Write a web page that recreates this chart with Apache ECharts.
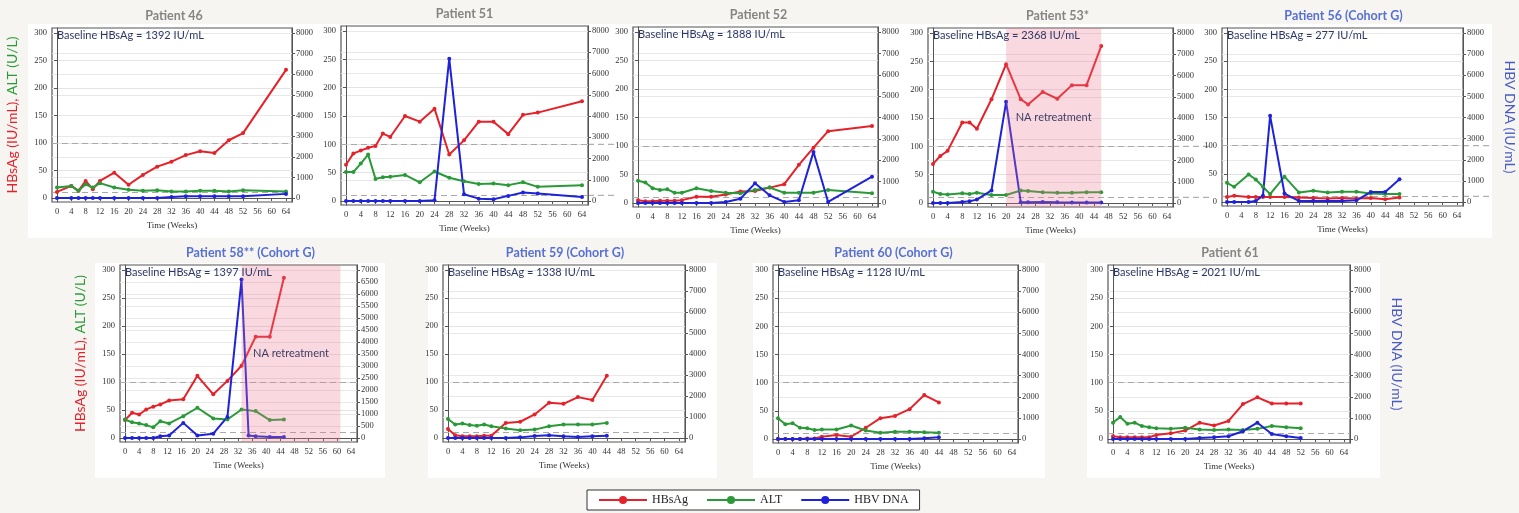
<!DOCTYPE html>
<html><head><meta charset="utf-8">
<script src="https://cdn.jsdelivr.net/npm/echarts@6/dist/echarts.min.js"></script>
<style>html,body{margin:0;padding:0;background:#f7f5f1;}#c{width:1519px;height:513px;}</style>
</head><body><div id="c"></div>
<script>
// ---------- tick labels ----------
const xTicks = [0,4,8,12,16,20,24,28,32,36,40,44,48,52,56,60,64];
const leftTicks = [0,50,100,150,200,250,300];
const rightTicks8000 = [0,1000,2000,3000,4000,5000,6000,7000,8000];
const rightTicks7000 = [0,500,1000,1500,2000,2500,3000,3500,4000,4500,5000,5500,6000,6500,7000];
const refLines = [100, 10];

// ---------- data (weeks, HBsAg IU/mL, ALT U/L, HBV DNA IU/mL) ----------
const weeks46 = [0,4,6,8,10,12,16,20,24,28,32,36,40,44,48,52,64];
const hbsag46 = [11,22,13,31,16,31,46,24,42,57,66,78,85,82,105,118,233];
const alt46   = [19,22,13,25,19,27,19,15,13,14,12,12,13,13,12,14,12];
const dna46   = [0,0,0,0,0,0,0,0,0,0,50,80,80,80,80,80,200];

const weeks51 = [0,2,4,6,8,10,12,16,20,24,28,32,36,40,44,48,52,64];
const hbsag51 = [64,84,89,94,97,119,113,150,140,163,82,107,140,140,118,152,156,176];
const alt51   = [51,51,66,82,39,42,43,46,33,52,41,35,30,31,28,33,25,28];
const dna51   = [0,0,0,0,0,0,0,0,0,30,6700,320,110,80,240,400,350,190];

const weeks52 = [0,2,4,6,8,10,12,16,20,24,28,32,36,40,44,48,52,64];
const hbsag52 = [5,3,3,4,4,4,5,11,11,15,20,21,27,33,67,97,126,135];
const alt52   = [39,36,26,23,24,18,18,26,21,18,17,23,27,18,18,18,23,17];
const dna52   = [0,0,0,0,0,0,0,0,0,50,200,920,360,50,130,2390,50,1230];

const weeks53 = [0,2,4,8,10,12,16,20,24,26,30,34,38,42,46];
const hbsag53 = [69,83,92,142,142,131,183,245,183,174,196,184,208,208,277];
const alt53   = [20,16,15,17,16,18,14,14,22,21,19,18,18,19,19];
const dna53   = [0,0,0,50,80,160,590,4760,30,30,50,30,20,20,20];

const weeks56 = [0,2,6,8,10,12,16,20,24,28,32,36,40,44,48];
const hbsag56 = [9,11,9,9,9,9,9,8,7,6,7,6,7,5,8];
const alt56   = [34,27,49,40,27,14,45,17,20,17,18,18,15,14,14];
const dna56   = [0,0,0,50,300,4080,400,50,50,50,50,80,470,470,1080];

const weeks58 = [0,2,4,6,8,10,12.5,16.5,20.5,25,29,33,35,37,41,45];
const hbsag58 = [32,45,42,51,56,60,67,69,111,78,102,129,null,181,181,286];
const alt58   = [33,28,26,23,19,30,26,39,54,35,33,51,null,48,32,33];
const dna58   = [0,0,0,0,0,70,100,630,100,180,880,6600,100,70,40,40];

const weeks59 = [0,2,4,6,8,10,12,16,20,24,28,32,36,40,44];
const hbsag59 = [16,5,3,3,3,4,4,27,29,42,63,61,73,68,111];
const alt59   = [34,24,26,23,22,24,21,17,14,15,21,24,24,24,27];
const dna59   = [0,0,0,0,0,0,0,0,30,100,130,80,50,80,110];

const weeks60 = [0,2,4,6,8,10,12,16,20,24,28,32,36,40,44];
const hbsag60 = [0,0,0,0,1,1,4,7,4,20,37,41,53,78,65];
const alt60   = [37,26,28,20,19,16,17,17,24,15,11,13,13,12,11];
const dna60   = [0,0,0,0,0,0,0,0,0,0,0,0,0,30,80];

const weeks61 = [0,2,4,6,8,10,12,16,20,24,28,32,36,40,44,48,52];
const hbsag61 = [5,3,3,3,3,3,7,10,15,29,24,32,62,74,63,63,63];
const alt61   = [29,39,27,29,23,21,19,18,20,17,16,17,16,18,23,21,19];
const dna61   = [0,0,0,0,0,0,0,0,0,50,80,130,370,770,240,130,50];

// ---------- panel descriptions ----------
const panels = [
  {title:'Patient 46', cohort:false, baseline:'Baseline HBsAg = 1392 IU/mL', w:weeks46, s:hbsag46, a:alt46, d:dna46, r:rightTicks8000, leftName:true,  rightName:false, shade:null},
  {title:'Patient 51', cohort:false, baseline:'', w:weeks51, s:hbsag51, a:alt51, d:dna51, r:rightTicks8000, leftName:false, rightName:false, shade:null},
  {title:'Patient 52', cohort:false, baseline:'Baseline HBsAg = 1888 IU/mL', w:weeks52, s:hbsag52, a:alt52, d:dna52, r:rightTicks8000, leftName:false, rightName:false, shade:null},
  {title:'Patient 53*', cohort:false, baseline:'Baseline HBsAg = 2368 IU/mL', w:weeks53, s:hbsag53, a:alt53, d:dna53, r:rightTicks8000, leftName:false, rightName:false, shade:[20,46]},
  {title:'Patient 56 (Cohort G)', cohort:true, baseline:'Baseline HBsAg = 277 IU/mL', w:weeks56, s:hbsag56, a:alt56, d:dna56, r:rightTicks8000, leftName:false, rightName:true, shade:null},
  {title:'Patient 58** (Cohort G)', cohort:true, baseline:'Baseline HBsAg = 1397 IU/mL', w:weeks58, s:hbsag58, a:alt58, d:dna58, r:rightTicks7000, leftName:true, rightName:false, shade:[33,61]},
  {title:'Patient 59 (Cohort G)', cohort:true, baseline:'Baseline HBsAg = 1338 IU/mL', w:weeks59, s:hbsag59, a:alt59, d:dna59, r:rightTicks8000, leftName:false, rightName:false, shade:null},
  {title:'Patient 60 (Cohort G)', cohort:true, baseline:'Baseline HBsAg = 1128 IU/mL', w:weeks60, s:hbsag60, a:alt60, d:dna60, r:rightTicks8000, leftName:false, rightName:false, shade:null},
  {title:'Patient 61', cohort:false, baseline:'Baseline HBsAg = 2021 IU/mL', w:weeks61, s:hbsag61, a:alt61, d:dna61, r:rightTicks8000, leftName:false, rightName:true, shade:null}
];
// frame rectangles [left, top, right, bottom], title x-offsets, dashed-line extension past the frame
const frames = [
  [52,28,292,202],[341,26,588,205],[633,27,878,207],[928,28,1173,207],[1222,28,1463,206],
  [120,265,357,442],[443,265,685,442],[773,265,1018,443],[1108,265,1350,443]
];
const titleShift = [2,0,3,7,1,12,1,-2,1];
const dashExtend = [0,28,0,40,28,0,0,0,0];
const whiteBoxes = [[28,24,1492,238],[95,263,385,478],[428,263,717,478],[753,263,1045,478],[1087,263,1380,478]];

const RED='#e5222a', GREEN='#2a9a38', BLUE='#1e22d8';
const PAD={l:5,r:6,t:5,b:4};

const grids=[], xAxes=[], yAxes=[], series=[], graphics=[];

whiteBoxes.forEach(b=>graphics.push({type:'rect', z:-100, shape:{x:b[0],y:b[1],width:b[2]-b[0],height:b[3]-b[1]}, style:{fill:'#ffffff'}}));

const fmt = v => String(Math.round(v));

panels.forEach((p,i)=>{
  const [L,T,R,B]=frames[i];
  const w=R-L, h=B-T;
  const ppw=(w-PAD.l-PAD.r)/64;
  const ppu=(h-PAD.t-PAD.b)/300;
  const xmin=-PAD.l/ppw, xmax=64+PAD.r/ppw;
  const ymin=-PAD.b/ppu, ymax=300+PAD.t/ppu;
  const rTop=p.r[p.r.length-1], k=rTop/300;
  grids.push({left:L, top:T, width:w, height:h, show:true, borderColor:'#555', borderWidth:1.2, backgroundColor:'#fff'});
  const labelStyle={fontFamily:'Liberation Serif', fontSize:8.5, color:'#333', formatter:fmt};
  xAxes.push({type:'value', gridIndex:i, min:xmin, max:xmax,
    name:'Time (Weeks)', nameLocation:'middle', nameGap:19, nameTextStyle:{fontFamily:'Liberation Serif', fontSize:9, color:'#333'},
    axisLine:{show:true, lineStyle:{color:'#555'}}, axisTick:{show:true, customValues:xTicks, length:3, lineStyle:{color:'#555'}},
    axisLabel:Object.assign({customValues:xTicks, margin:5}, labelStyle), splitLine:{show:false}});
  yAxes.push({type:'value', gridIndex:i, position:'left', min:ymin, max:ymax,
    name: p.leftName ? '{r|HBsAg (IU/mL),} {g|ALT (U/L)}' : '', nameLocation:'middle', nameGap:33,
    nameTextStyle:{fontFamily:'Lato', fontSize:14, rich:{r:{color:RED,fontFamily:'Lato',fontSize:14}, g:{color:GREEN,fontFamily:'Lato',fontSize:14}}},
    axisLine:{show:true, lineStyle:{color:'#555'}}, axisTick:{show:true, customValues:leftTicks, length:3, lineStyle:{color:'#555'}},
    axisLabel:Object.assign({customValues:leftTicks, margin:5}, labelStyle),
    splitLine:{show:true, lineStyle:{color:'#e3e3e3', width:1}}});
  yAxes.push({type:'value', gridIndex:i, position:'right', min:ymin*k, max:ymax*k,
    name: p.rightName ? 'HBV DNA (IU/mL)' : '', nameLocation:'middle', nameGap:40, nameRotate:-90,
    nameTextStyle:{fontFamily:'Lato', fontSize:14, color:'#4a5bc4'},
    axisLine:{show:true, lineStyle:{color:'#555'}}, axisTick:{show:true, customValues:p.r, length:3, lineStyle:{color:'#555'}},
    axisLabel:Object.assign({customValues:p.r, margin:4}, labelStyle),
    splitLine:{show:true, lineStyle:{color:'#e8e8e8', width:1}}});
  const yl=2*i, yr=2*i+1;
  const mk=(name,color,vals,yi)=>({name, type:'line', xAxisIndex:i, yAxisIndex:yi, z:2,
    data:p.w.map((wk,j)=>[wk, vals[j]]), connectNulls:true, symbol:'circle', symbolSize:4, showSymbol:true,
    itemStyle:{color}, lineStyle:{color, width:2}, animation:false});
  series.push(mk('HBsAg',RED,p.s,yl));
  series.push(mk('ALT',GREEN,p.a,yl));
  series.push(mk('HBV DNA',BLUE,p.d,yr));
  // reference dashed lines
  series.push({type:'line', xAxisIndex:i, yAxisIndex:yl, data:[], silent:true,
    markLine:{silent:true, z:1, symbol:['none','none'], label:{show:false},
      lineStyle:{type:[6,4], color:'#a9a9a9', width:1.2},
      data:refLines.map(v=>({yAxis:v}))}});
  if(p.shade){
    series.push({type:'line', xAxisIndex:i, yAxisIndex:yl, data:[], silent:true,
      markArea:{silent:true, z:3, itemStyle:{color:'rgba(235,120,140,0.28)'},
        label:{show:true, position:'inside', formatter:'NA retreatment', color:'#3d3d66', fontFamily:'Lato', fontSize:11},
        data:[[{xAxis:p.shade[0]},{xAxis:p.shade[1]}]]}});
  }
  graphics.push({type:'text', x:(L+R)/2+titleShift[i], y:T-12, z:10,
    style:{text:p.title, fill:p.cohort?'#5670d4':'#858585', font:'bold 12.5px Lato', align:'center', verticalAlign:'middle'}});
  if(p.baseline){
    graphics.push({type:'text', x:L+5, y:T+7, z:10,
      style:{text:p.baseline, fill:'#2c3766', font:'11px Lato', align:'left', verticalAlign:'middle'}});
  }
});

const chart=echarts.init(document.getElementById('c'), null, {renderer:'canvas'});
chart.setOption({
  backgroundColor:'#f7f5f1',
  animation:false,
  grid:grids, xAxis:xAxes, yAxis:yAxes, series:series,
  legend:{data:['HBsAg','ALT','HBV DNA'], left:587, top:490, itemWidth:48, itemHeight:10, itemGap:18,
    padding:[4,11], backgroundColor:'#fff', borderColor:'#333', borderWidth:1,
    textStyle:{fontFamily:'Liberation Serif', fontSize:12, color:'#222'}},
  graphic:graphics
});

// extend the dashed reference lines past the right frame where the reference does so
const extra=[];
panels.forEach((p,i)=>{
  if(!dashExtend[i]) return;
  const R=frames[i][2];
  refLines.forEach(v=>{
    const y=chart.convertToPixel({yAxisIndex:2*i}, v);
    extra.push({type:'line', z:-50, shape:{x1:R, y1:y, x2:R+dashExtend[i], y2:y},
      style:{stroke:'#b0b0b0', lineWidth:1.2, lineDash:[6,4]}});
  });
});
chart.setOption({graphic:graphics.concat(extra)});
</script></body></html>
